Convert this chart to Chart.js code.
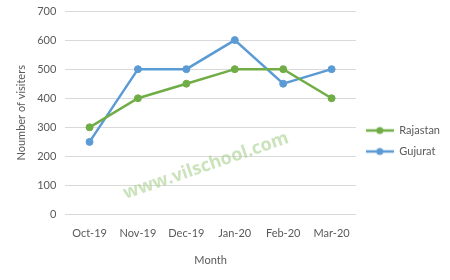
<!DOCTYPE html>
<html>
<head>
<meta charset="utf-8">
<script src="https://cdn.jsdelivr.net/npm/chart.js@4.4.1/dist/chart.umd.min.js"></script>
<style>
    html, body { margin: 0; padding: 0; background: #ffffff; }
    #box { width: 450px; height: 280px; }
</style>
</head>
<body>
<div id="box"><canvas id="grafico"></canvas></div>
<script>
var meses = ['Oct-19', 'Nov-19', 'Dec-19', 'Jan-20', 'Feb-20', 'Mar-20'];
var rajastan = [300, 400, 450, 500, 500, 400];
var gujurat = [250, 500, 500, 600, 450, 500];
var ticksY = [0, 100, 200, 300, 400, 500, 600, 700];

var verde = '#70ad47';
var azul = '#5b9bd5';
var cinza = '#595959';

// marcador da legenda: linha com bolinha no meio
function marcador(cor) {
    var c = document.createElement('canvas');
    c.width = 28;
    c.height = 10;
    var ctx = c.getContext('2d');
    ctx.strokeStyle = cor;
    ctx.lineWidth = 2.5;
    ctx.beginPath();
    ctx.moveTo(0, 5);
    ctx.lineTo(28, 5);
    ctx.stroke();
    ctx.fillStyle = cor;
    ctx.beginPath();
    ctx.arc(14, 5, 3.5, 0, Math.PI * 2);
    ctx.fill();
    return c;
}

// marca d'agua inclinada
var marcaDagua = {
    id: 'marcaDagua',
    afterDatasetsDraw(chart) {
        var ctx = chart.ctx;
        ctx.save();
        ctx.translate(206, 166);
        ctx.rotate(-19 * Math.PI / 180);
        ctx.font = 'bold 18px "Open Sans"';
        ctx.fillStyle = 'rgba(169, 209, 142, 0.6)';
        ctx.textAlign = 'center';
        ctx.textBaseline = 'middle';
        ctx.fillText('www.vilschool.com', 0, 0);
        ctx.restore();
    }
};

Chart.defaults.font.family = 'Lato';
Chart.defaults.font.size = 11;
Chart.defaults.color = cinza;

let Grafico = new Chart(
    document.getElementById('grafico'), {
    type: 'line',
    data: {
        labels: meses,
        datasets: [{
            label: 'Rajastan',
            data: rajastan,
            borderColor: verde,
            backgroundColor: verde,
            borderWidth: 2.5,
            pointRadius: 3.5,
            pointBorderWidth: 1,
            pointHoverRadius: 3.5,
            tension: 0
        }, {
            label: 'Gujurat',
            data: gujurat,
            borderColor: azul,
            backgroundColor: azul,
            borderWidth: 2.5,
            pointRadius: 3.5,
            pointBorderWidth: 1,
            pointHoverRadius: 3.5,
            tension: 0
        }]
    },
    options: {
        responsive: true,
        maintainAspectRatio: false,
        animation: false,
        layout: {
            padding: {top: 11, bottom: 9, left: 11, right: 0}
        },
        scales: {
            x: {
                offset: true,
                grid: {display: false},
                border: {display: false},
                ticks: {padding: 4, color: cinza},
                title: {display: true, text: 'Month', color: cinza, padding: {top: 10, bottom: 4}}
            },
            y: {
                min: 0,
                max: 700,
                afterBuildTicks: function (axis) {
                    axis.ticks = ticksY.map(function (v) { return {value: v}; });
                },
                afterFit: function (axis) {
                    axis.paddingTop = 0;
                },
                grid: {color: '#d9d9d9', lineWidth: 1, drawTicks: false},
                border: {display: false},
                ticks: {padding: 9, color: cinza},
                title: {display: true, text: 'Noumber of visiters', color: cinza, padding: {top: 4, bottom: 0}}
            }
        },
        plugins: {
            legend: {
                position: 'right',
                labels: {
                    usePointStyle: true,
                    pointStyleWidth: 28,
                    boxHeight: 10,
                    generateLabels: function (chart) {
                        return chart.data.datasets.map(function (ds, i) {
                            return {
                                text: ds.label,
                                pointStyle: marcador(ds.borderColor),
                                fontColor: cinza,
                                strokeStyle: ds.borderColor,
                                fillStyle: ds.borderColor,
                                lineWidth: 0,
                                datasetIndex: i
                            };
                        });
                    },
                    padding: 10
                }
            },
            tooltip: {enabled: false}
        }
    },
    plugins: [marcaDagua]
});
</script>
</body>
</html>
